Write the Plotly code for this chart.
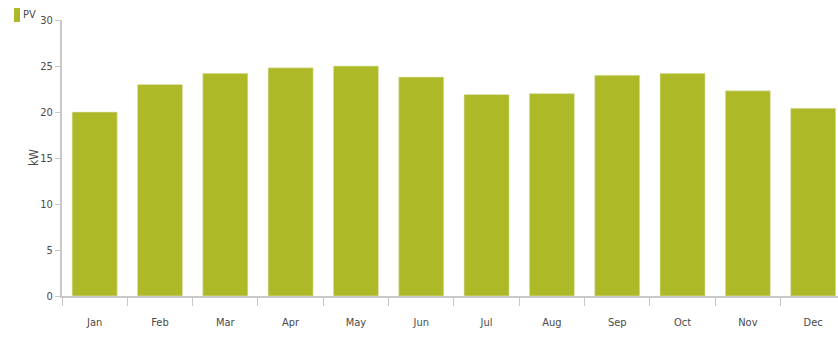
import plotly.graph_objects as go

months = ["Jan", "Feb", "Mar", "Apr", "May", "Jun", "Jul", "Aug", "Sep", "Oct", "Nov", "Dec"]
pv_kw = [20.0, 23.0, 24.2, 24.8, 25.0, 23.8, 21.9, 22.0, 24.0, 24.2, 22.3, 20.4]
y_ticks = [0, 5, 10, 15, 20, 25, 30]
series_name = "PV"

font_family = "DejaVu Sans Condensed, Liberation Sans Narrow, sans-serif"
bar_color = "#adb927"
text_color = "#4a4a4a"
axis_color = "#c8c8c8"

W, H = 838, 338
ML, MR, MT, MB = 62, 0, 20, 42
PW, PH = W - ML - MR, H - MT - MB

fig = go.Figure(
    go.Bar(
        x=months,
        y=pv_kw,
        name=series_name,
        marker=dict(color=bar_color, line=dict(width=0.6, color="#e4e8c0")),
        showlegend=False,
    )
)

# compact legend key in the top-left corner
fig.add_shape(
    type="rect", xref="paper", yref="paper",
    x0=(14 - ML) / PW, x1=(20 - ML) / PW,
    y0=1 + (MT - 22) / PH, y1=1 + (MT - 8) / PH,
    fillcolor=bar_color, line=dict(width=0),
)
fig.add_annotation(
    text=series_name, xref="paper", yref="paper",
    x=(21 - ML) / PW, y=1 + (MT - 15) / PH,
    xanchor="left", yanchor="middle", showarrow=False,
    font=dict(size=11, color=text_color),
)

# y-axis unit label, placed close to the tick labels
fig.add_annotation(
    text="kW", xref="paper", yref="paper",
    x=(34 - ML) / PW, y=1 - (158 - MT) / PH,
    xanchor="center", yanchor="middle", textangle=-90, showarrow=False,
    font=dict(size=12, color=text_color),
)

fig.update_layout(
    width=W,
    height=H,
    margin=dict(l=ML, r=MR, t=MT, b=MB),
    paper_bgcolor="white",
    plot_bgcolor="white",
    bargap=0.31,
    font=dict(family=font_family, size=11, color=text_color),
    showlegend=False,
)

fig.update_xaxes(
    range=[-0.5, 11.38],
    showline=True, linecolor=axis_color, linewidth=2,
    ticks="outside", tickson="boundaries", ticklen=8, tickcolor=axis_color,
    showgrid=False, zeroline=False,
    tickfont=dict(size=11, color=text_color),
    ticklabelstandoff=15,
)

fig.update_yaxes(
    range=[0, 30],
    tickvals=y_ticks,
    showline=True, linecolor=axis_color, linewidth=2,
    ticks="outside", ticklen=5, tickcolor=axis_color,
    showgrid=False, zeroline=False,
    tickfont=dict(size=11, color=text_color),
)

fig.write_html("out.html")
